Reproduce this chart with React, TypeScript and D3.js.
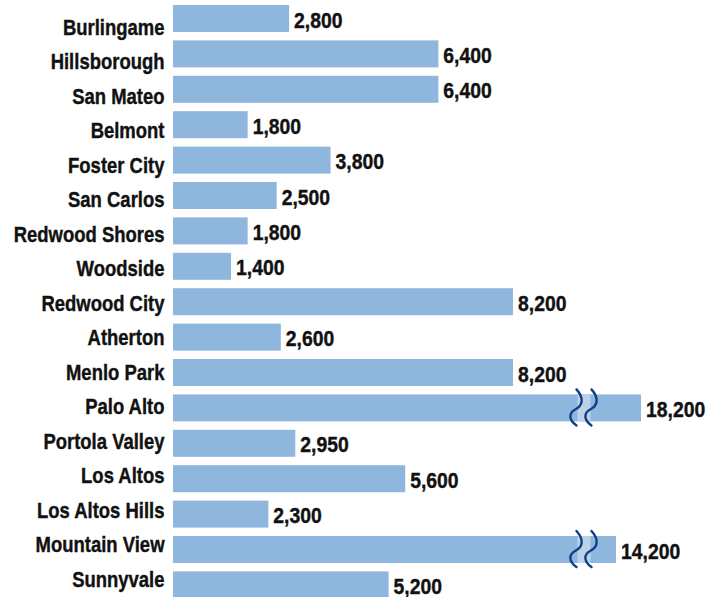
import React from "react";
import * as d3 from "d3";

const categories = [
  "Burlingame",
  "Hillsborough",
  "San Mateo",
  "Belmont",
  "Foster City",
  "San Carlos",
  "Redwood Shores",
  "Woodside",
  "Redwood City",
  "Atherton",
  "Menlo Park",
  "Palo Alto",
  "Portola Valley",
  "Los Altos",
  "Los Altos Hills",
  "Mountain View",
  "Sunnyvale",
];

const values = [
  2800, 6400, 6400, 1800, 3800, 2500, 1800, 1400, 8200, 2600, 8200, 18200, 2950,
  5600, 2300, 14200, 5200,
];

// categories whose bars are drawn with a scale break
const brokenBars = ["Palo Alto", "Mountain View"];

const W = 722;
const H = 597;

const FONT = "'Liberation Sans', Arial, Helvetica, sans-serif";

export default function App() {
  const x = d3
    .scaleLinear()
    .domain([0, 8200, 14200, 18200])
    .range([173, 513, 616, 641]);

  const step = 35.4;
  const pad = 8.4 / step;
  const y = d3
    .scaleBand<string>()
    .domain(categories)
    .range([5 - 4.2, 5 - 4.2 + categories.length * step])
    .paddingInner(pad)
    .paddingOuter(pad / 2);

  // category-label baselines
  const yl = d3.scalePoint<string>().domain(categories).range([34.5, 586.5]);

  const bw = y.bandwidth();
  const fmt = d3.format(",");
  const barColor = "#8fb6dc";
  const breakFill = "#bcd2ea";
  const breakStroke = "#0f3f85";
  const b1 = 575.5;
  const b2 = 590.5;

  const wave = (cx: number, top: number, bottom: number) => {
    const h = bottom - top;
    return `M${cx + 1},${top} C${cx + 9},${top + h * 0.25} ${cx + 7},${top + h * 0.45} ${cx},${top + h * 0.55} C${cx - 7},${top + h * 0.65} ${cx - 7},${top + h * 0.85} ${cx + 1},${bottom}`;
  };

  return (
    <div style={{ position: "absolute", left: 0, top: 0 }}>
      <svg width={W} height={H} style={{ display: "block" }}>
        <rect x={0} y={0} width={W} height={H} fill="#ffffff" />
        {categories.map((c, i) => {
          const v = values[i];
          const y0 = y(c) as number;
          const cy = y0 + bw / 2;
          const x1 = x(v);
          const broken = brokenBars.includes(c);
          return (
            <g key={c}>
              <rect x={x(0)} y={y0} width={x1 - x(0)} height={bw} fill={barColor} />
              {broken && (
                <g>
                  <rect x={b1 + 2} y={y0} width={b2 - b1 - 2} height={bw} fill={breakFill} />
                  <path d={wave(b1, y0 - 5, y0 + bw + 4)} fill="none" stroke={breakStroke} strokeWidth={2.4} strokeLinecap="round" />
                  <path d={wave(b2, y0 - 5, y0 + bw + 4)} fill="none" stroke={breakStroke} strokeWidth={2.4} strokeLinecap="round" />
                </g>
              )}
              <text
                transform={`translate(164.5,${yl(c)}) scale(0.84,1)`}
                textAnchor="end"
                fontFamily={FONT}
                fontWeight="bold"
                fontSize={22}
                fill="#111"
                stroke="#111"
                strokeWidth={0.4}
              >
                {c}
              </text>
              <text
                transform={`translate(${x1 + 5},${cy + 9}) scale(0.9,1)`}
                textAnchor="start"
                fontFamily={FONT}
                fontWeight="bold"
                fontSize={21.5}
                fill="#111"
                stroke="#111"
                strokeWidth={0.4}
              >
                {fmt(v)}
              </text>
            </g>
          );
        })}
      </svg>
    </div>
  );
}
